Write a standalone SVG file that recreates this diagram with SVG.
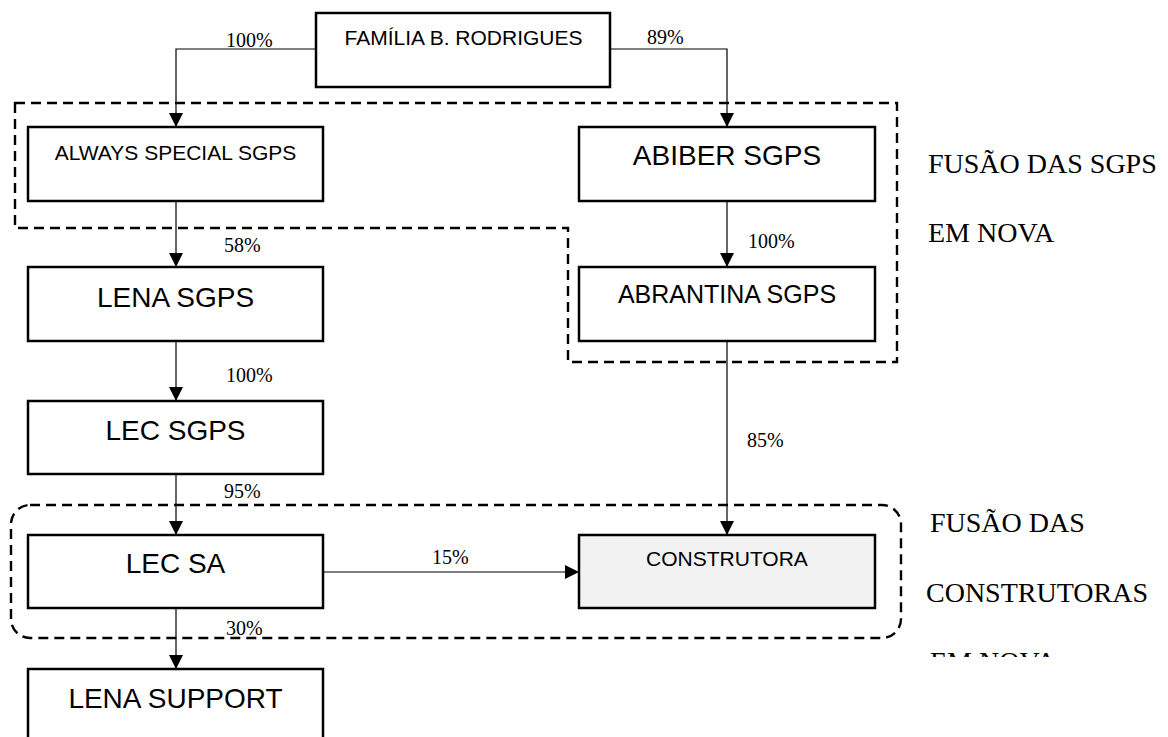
<svg xmlns="http://www.w3.org/2000/svg" width="1168" height="737" viewBox="0 0 1168 737">
<style>
.box{fill:#fff;stroke:#000;stroke-width:2.5}
.gray{fill:#f2f2f2}
.conn{fill:none;stroke:#000;stroke-width:1.2}
.dash{fill:none;stroke:#000;stroke-width:2.4;stroke-dasharray:10 6}
.sans{font-family:"Liberation Sans",Arial,sans-serif;fill:#000;text-anchor:middle}
.pct{font-family:"Liberation Serif","Times New Roman",serif;font-size:20px;fill:#000}
.note{font-family:"Liberation Serif","Times New Roman",serif;font-size:28px;fill:#000}
</style>
<defs>
<marker id="arr" viewBox="0 0 14 14" refX="14" refY="7" markerWidth="14" markerHeight="14" markerUnits="userSpaceOnUse" orient="auto">
<path d="M0,0 L14,7 L0,14 Z" fill="#000"/>
</marker>
<clipPath id="cut"><rect x="900" y="600" width="268" height="57"/></clipPath>
</defs>

<g id="groups">
<path class="dash" d="M15,103 H897 V362 H568 V228 H15 Z"/>
<rect class="dash" x="11" y="505" width="890" height="133" rx="19"/>
</g>

<g id="connectors">
<path class="conn" d="M316,49 H176 V127" marker-end="url(#arr)"/>
<path class="conn" d="M610,49 H727 V127" marker-end="url(#arr)"/>
<path class="conn" d="M176,201 V267" marker-end="url(#arr)"/>
<path class="conn" d="M727,201 V267" marker-end="url(#arr)"/>
<path class="conn" d="M176,341 V401" marker-end="url(#arr)"/>
<path class="conn" d="M176,474 V535" marker-end="url(#arr)"/>
<path class="conn" d="M727,341 V535" marker-end="url(#arr)"/>
<path class="conn" d="M323,572 H579" marker-end="url(#arr)"/>
<path class="conn" d="M176,608 V669" marker-end="url(#arr)"/>
<text class="pct" x="226" y="47">100%</text>
<text class="pct" x="647" y="44">89%</text>
<text class="pct" x="224" y="252">58%</text>
<text class="pct" x="748" y="248">100%</text>
<text class="pct" x="226" y="382">100%</text>
<text class="pct" x="747" y="447">85%</text>
<text class="pct" x="224" y="498">95%</text>
<text class="pct" x="432" y="564">15%</text>
<text class="pct" x="226" y="635">30%</text>
</g>

<g id="familia">
<rect class="box" x="316" y="13" width="294" height="74"/>
<text class="sans" x="463.5" y="45" font-size="21">FAMÍLIA B. RODRIGUES</text>
</g>
<g id="always">
<rect class="box" x="28" y="127" width="295" height="74"/>
<text class="sans" x="175.5" y="160" font-size="21">ALWAYS SPECIAL SGPS</text>
</g>
<g id="abiber">
<rect class="box" x="579" y="127" width="296" height="74"/>
<text class="sans" x="727" y="165" font-size="28">ABIBER SGPS</text>
</g>
<g id="lena-sgps">
<rect class="box" x="28" y="267" width="295" height="74"/>
<text class="sans" x="175.5" y="307" font-size="28">LENA SGPS</text>
</g>
<g id="abrantina">
<rect class="box" x="579" y="267" width="296" height="74"/>
<text class="sans" x="727" y="303" font-size="25">ABRANTINA SGPS</text>
</g>
<g id="lec-sgps">
<rect class="box" x="28" y="401" width="295" height="73"/>
<text class="sans" x="175.5" y="440" font-size="28">LEC SGPS</text>
</g>
<g id="lec-sa">
<rect class="box" x="28" y="535" width="295" height="73"/>
<text class="sans" x="175.5" y="573" font-size="28">LEC SA</text>
</g>
<g id="construtora">
<rect class="box gray" x="579" y="535" width="296" height="73"/>
<text class="sans" x="727" y="566" font-size="21">CONSTRUTORA</text>
</g>
<g id="lena-support">
<rect class="box" x="28" y="669" width="295" height="90"/>
<text class="sans" x="175.5" y="708" font-size="28">LENA SUPPORT</text>
</g>

<g id="notes">
<text class="note" x="928" y="173">FUSÃO DAS SGPS</text>
<text class="note" x="928" y="242">EM NOVA</text>
<text class="note" x="930" y="532">FUSÃO DAS</text>
<text class="note" x="926" y="602">CONSTRUTORAS</text>
<text class="note" x="930" y="671" clip-path="url(#cut)">EM NOVA</text>
</g>
</svg>
